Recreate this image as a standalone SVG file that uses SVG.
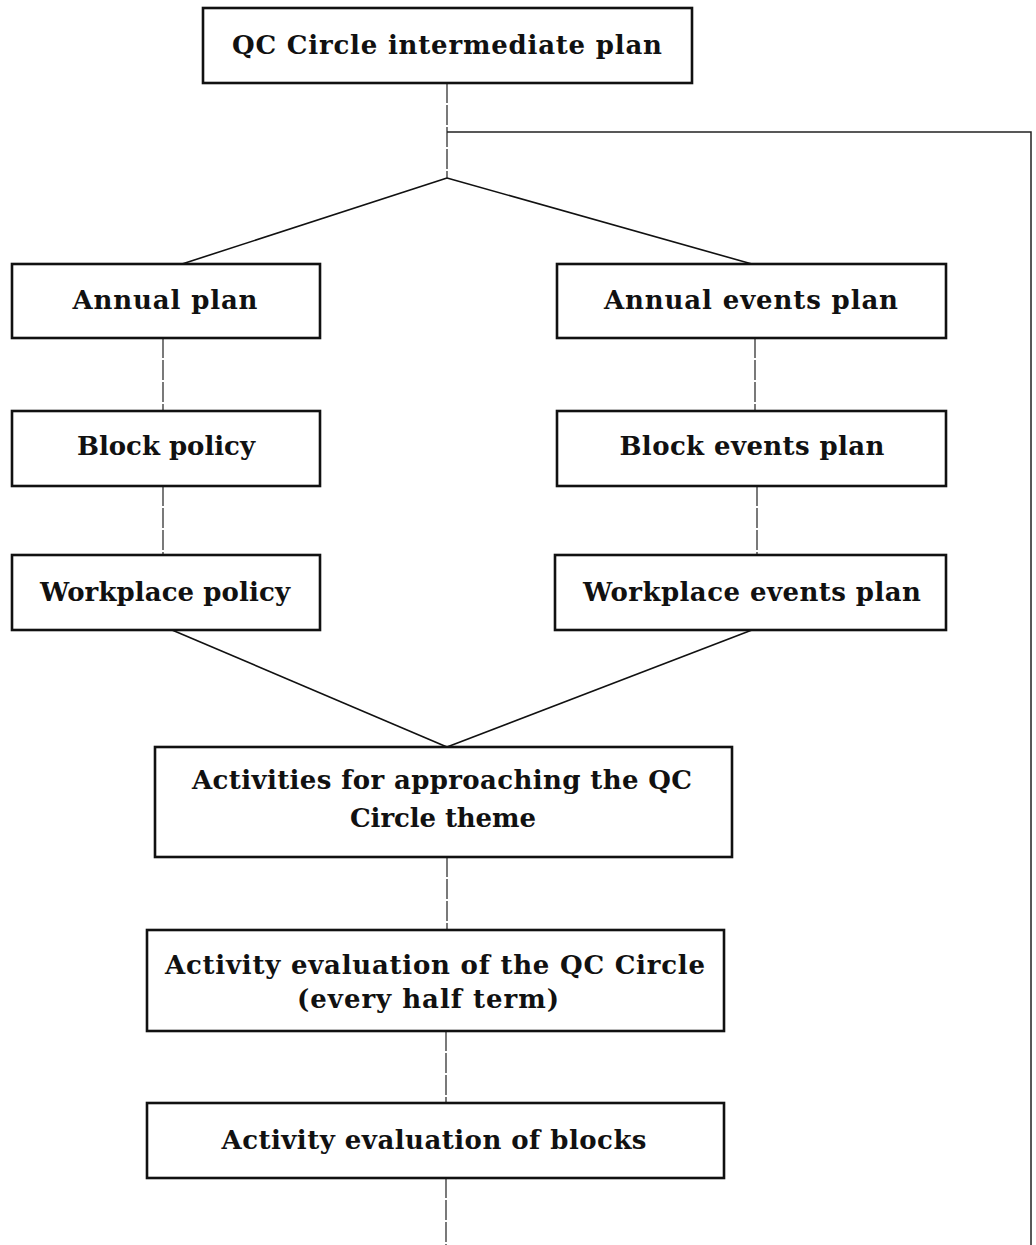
<svg xmlns="http://www.w3.org/2000/svg" width="1036" height="1245" viewBox="0 0 1036 1245">
  <style>
    .box { fill: #ffffff; stroke: #111111; stroke-width: 2.6; }
    .lbl { font-family: "DejaVu Serif", "Liberation Serif", serif; font-weight: bold; font-size: 26px; fill: #111111; text-anchor: middle; }
    .diag { stroke: #111111; stroke-width: 1.6; fill: none; }
    .stem { stroke: #222222; stroke-width: 1.2; fill: none; stroke-dasharray: 20 2; }
    .loop { stroke: #222222; stroke-width: 1.5; fill: none; }
  </style>
  <rect width="1036" height="1245" fill="#ffffff"/>

  <!-- connectors -->
  <g id="connectors">
    <line class="stem" x1="447" y1="83" x2="447" y2="178"/>
    <polyline class="loop" points="447,132 1031,132 1031,1245"/>
    <line class="diag" x1="447" y1="178" x2="182" y2="264"/>
    <line class="diag" x1="447" y1="178" x2="752" y2="264"/>
    <line class="stem" x1="163" y1="338" x2="163" y2="411"/>
    <line class="stem" x1="755" y1="338" x2="755" y2="411"/>
    <line class="stem" x1="163" y1="486" x2="163" y2="555"/>
    <line class="stem" x1="757" y1="486" x2="757" y2="555"/>
    <line class="diag" x1="172" y1="630" x2="447" y2="747"/>
    <line class="diag" x1="752" y1="630" x2="447" y2="747"/>
    <line class="stem" x1="447" y1="857" x2="447" y2="930"/>
    <line class="stem" x1="446" y1="1031" x2="446" y2="1103"/>
    <line class="stem" x1="446" y1="1178" x2="446" y2="1245"/>
  </g>

  <!-- nodes -->
  <g id="qc-intermediate-plan">
    <rect class="box" x="203" y="8" width="489" height="75"/>
    <text class="lbl" x="447" y="54" textLength="430" lengthAdjust="spacing">QC Circle intermediate plan</text>
  </g>
  <g id="annual-plan">
    <rect class="box" x="12" y="264" width="308" height="74"/>
    <text class="lbl" x="165" y="309" textLength="185" lengthAdjust="spacing">Annual plan</text>
  </g>
  <g id="annual-events-plan">
    <rect class="box" x="557" y="264" width="389" height="74"/>
    <text class="lbl" x="751" y="309" textLength="294" lengthAdjust="spacing">Annual events plan</text>
  </g>
  <g id="block-policy">
    <rect class="box" x="12" y="411" width="308" height="75"/>
    <text class="lbl" x="166" y="455" textLength="178" lengthAdjust="spacing">Block policy</text>
  </g>
  <g id="block-events-plan">
    <rect class="box" x="557" y="411" width="389" height="75"/>
    <text class="lbl" x="752" y="455" textLength="265" lengthAdjust="spacing">Block events plan</text>
  </g>
  <g id="workplace-policy">
    <rect class="box" x="12" y="555" width="308" height="75"/>
    <text class="lbl" x="165" y="601" textLength="250" lengthAdjust="spacing">Workplace policy</text>
  </g>
  <g id="workplace-events-plan">
    <rect class="box" x="555" y="555" width="391" height="75"/>
    <text class="lbl" x="752" y="601" textLength="338" lengthAdjust="spacing">Workplace events plan</text>
  </g>
  <g id="approach-activities">
    <rect class="box" x="155" y="747" width="577" height="110"/>
    <text class="lbl" x="442" y="789" textLength="500" lengthAdjust="spacing">Activities for approaching the QC</text>
    <text class="lbl" x="443" y="827" textLength="186" lengthAdjust="spacing">Circle theme</text>
  </g>
  <g id="circle-evaluation">
    <rect class="box" x="147" y="930" width="577" height="101"/>
    <text class="lbl" x="435" y="974" textLength="540" lengthAdjust="spacing">Activity evaluation of the QC Circle</text>
    <text class="lbl" x="428" y="1008" textLength="262" lengthAdjust="spacing">(every half term)</text>
  </g>
  <g id="block-evaluation">
    <rect class="box" x="147" y="1103" width="577" height="75"/>
    <text class="lbl" x="434" y="1149" textLength="425" lengthAdjust="spacing">Activity evaluation of blocks</text>
  </g>
</svg>
